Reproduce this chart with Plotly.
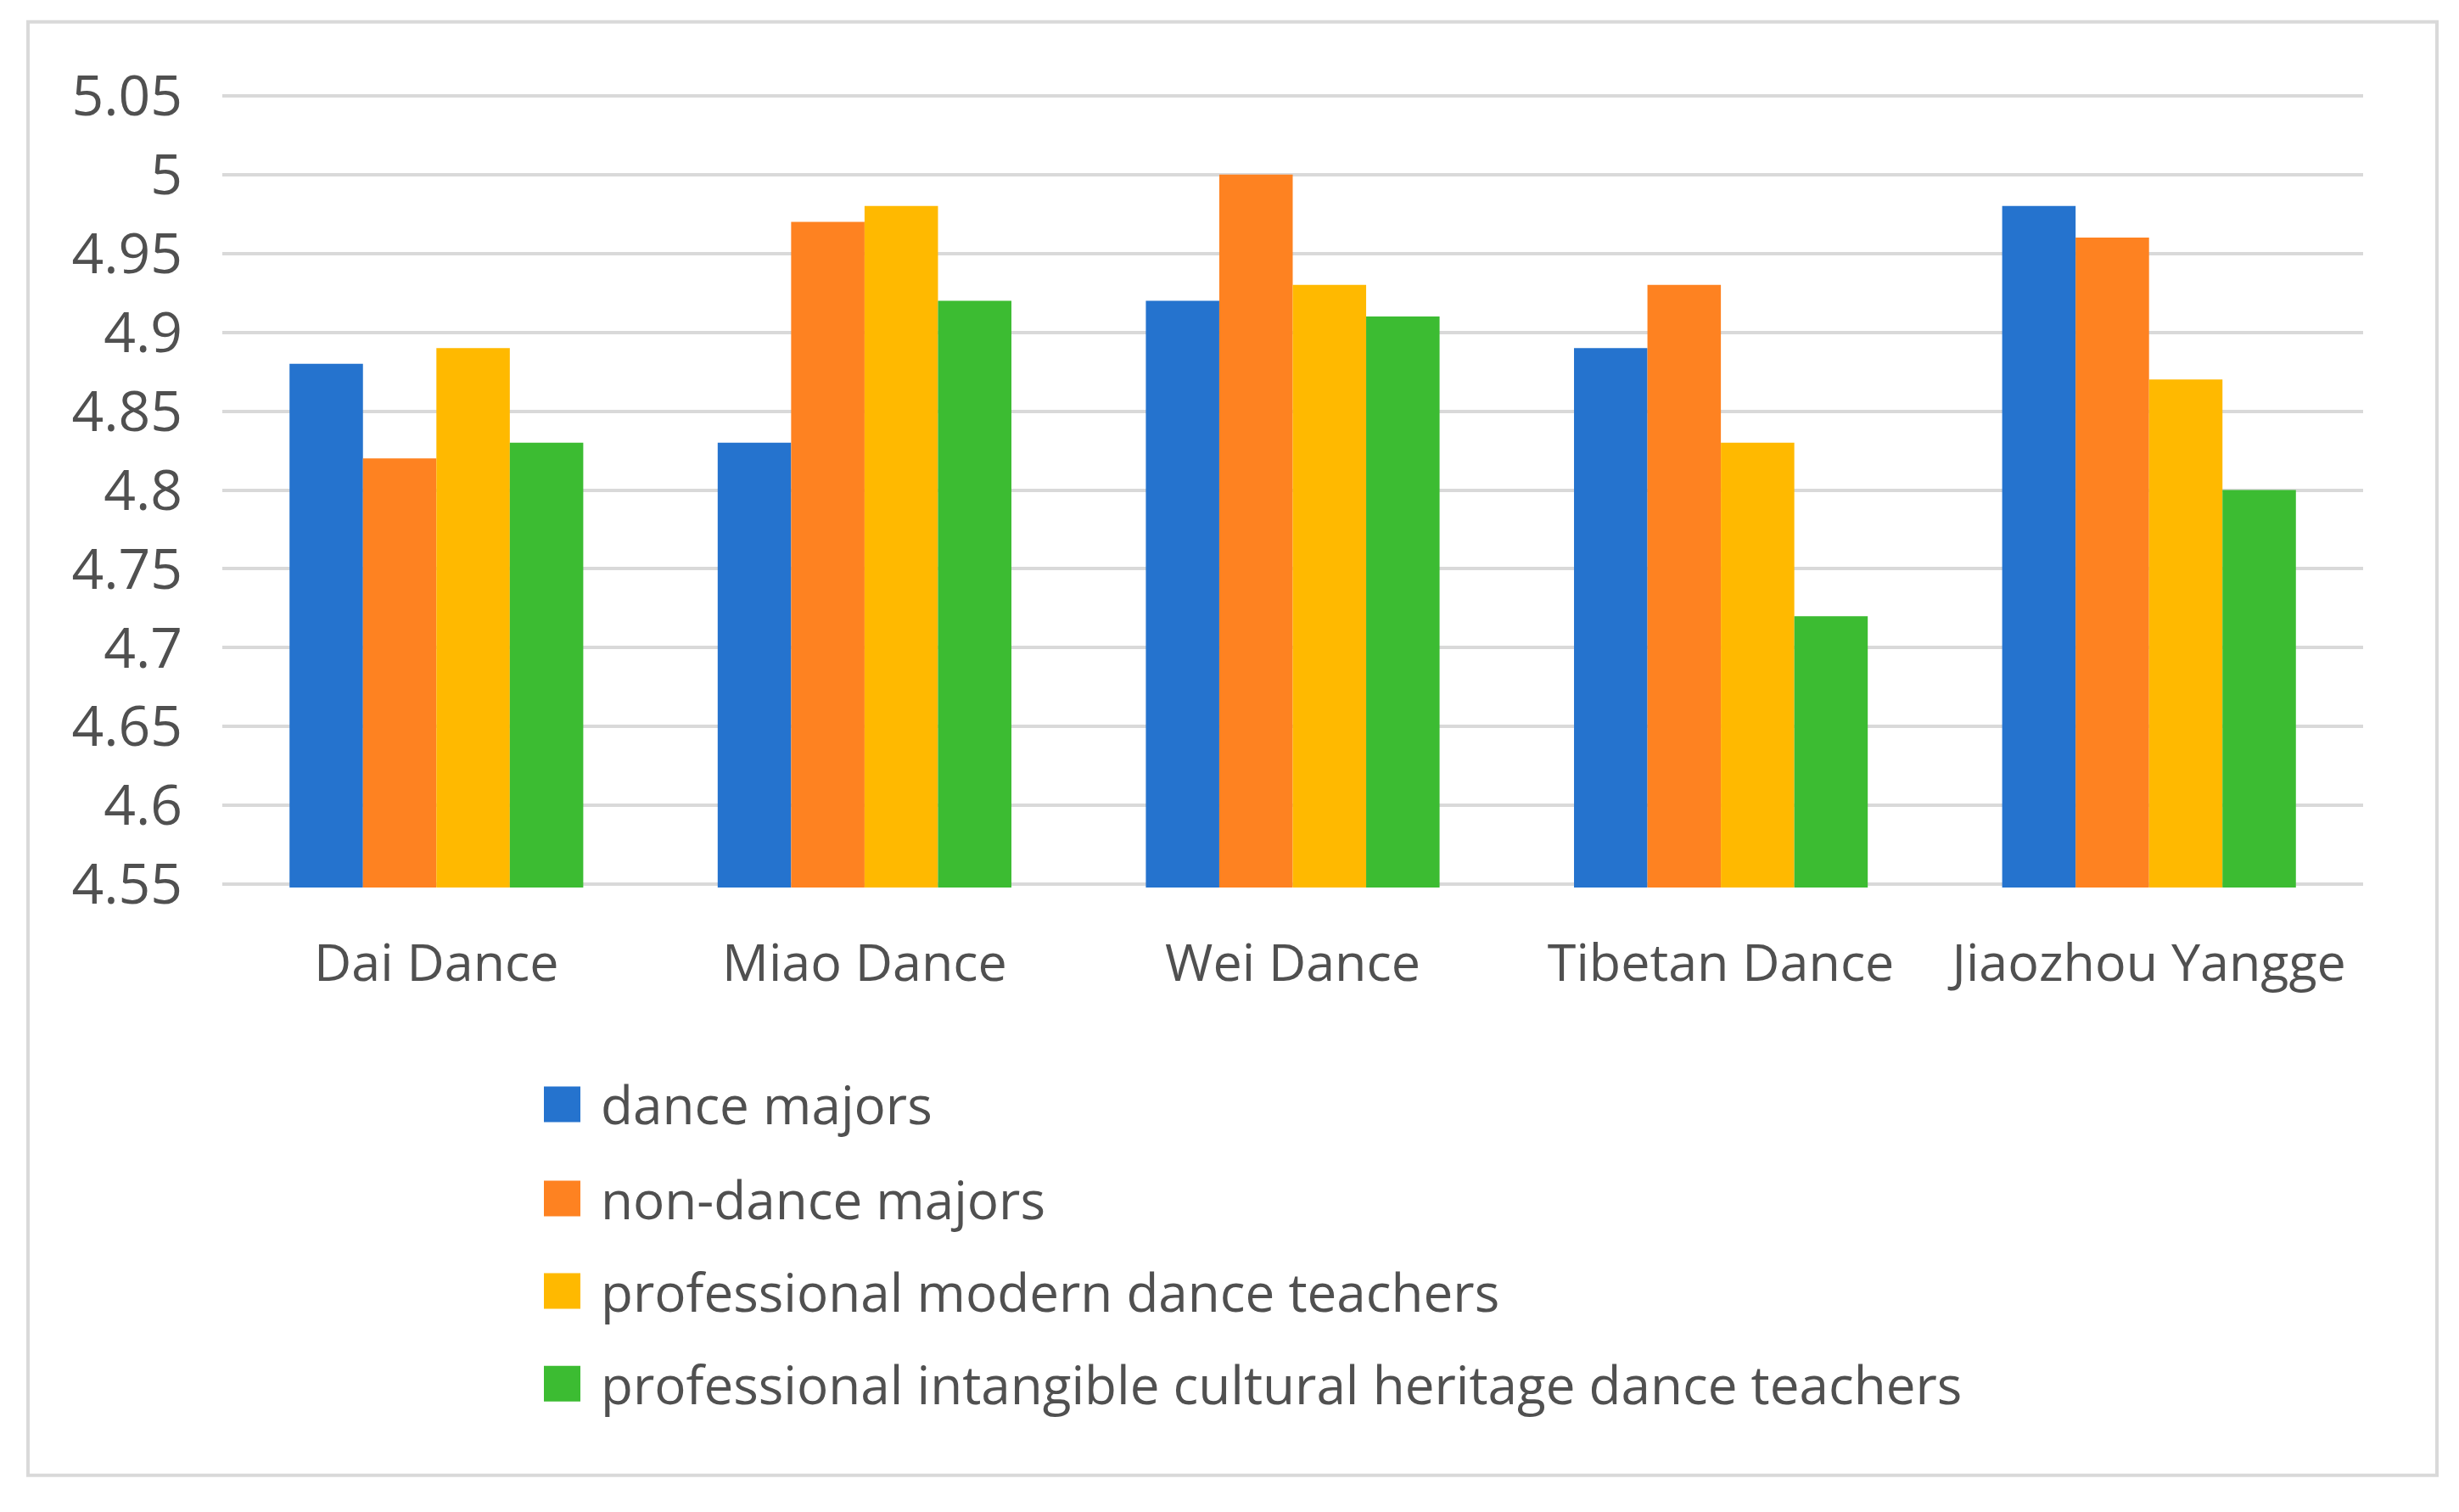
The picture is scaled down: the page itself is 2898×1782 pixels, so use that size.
import plotly.graph_objects as go

categories = ["Dai Dance", "Miao Dance", "Wei Dance", "Tibetan Dance", "Jiaozhou Yangge"]
series_names = [
    "dance majors",
    "non-dance majors",
    "professional modern dance teachers",
    "professional intangible cultural heritage dance teachers",
]
dance_majors = [4.88, 4.83, 4.92, 4.89, 4.98]
non_dance_majors = [4.82, 4.97, 5.00, 4.93, 4.96]
modern_teachers = [4.89, 4.98, 4.93, 4.83, 4.87]
heritage_teachers = [4.83, 4.92, 4.91, 4.72, 4.80]
tick_values = [4.55, 4.6, 4.65, 4.7, 4.75, 4.8, 4.85, 4.9, 4.95, 5.0, 5.05]
tick_labels = ["4.55", "4.6", "4.65", "4.7", "4.75", "4.8", "4.85", "4.9", "4.95", "5", "5.05"]

colors = ["#2573CE", "#FE8221", "#FFB900", "#3CBC32"]
series_values = [dance_majors, non_dance_majors, modern_teachers, heritage_teachers]

W, H = 2898, 1782
Y_MIN, Y_MAX = 4.55, 5.05
PAD = 0.002  # small range extension so the edge gridlines are drawn
# pixel geometry of the gridline span (4.55 .. 5.05)
GX_L, GX_R, GY_T, GY_B = 262, 2785, 113, 1042
PPU = (GY_B - GY_T) / (Y_MAX - Y_MIN)
PX_L, PX_R = GX_L, GX_R
PX_T = GY_T - PAD * PPU
PX_B = GY_B + PAD * PPU
FONT = "Open Sans"
TXT = "#505050"


def px_x(x):
    return (x - PX_L) / (PX_R - PX_L)


def px_y(y):
    return (PX_B - y) / (PX_B - PX_T)


fig = go.Figure()
for name, vals, col in zip(series_names, series_values, colors):
    fig.add_trace(go.Bar(x=categories, y=vals, name=name, marker=dict(color=col, line=dict(width=0))))

shapes = [
    dict(type="rect", xref="paper", yref="paper",
         x0=px_x(33), x1=px_x(2872), y0=px_y(1738), y1=px_y(26),
         line=dict(color="#d9d9d9", width=4), layer="below"),
]
annotations = []
legend_rows = [1301, 1412, 1521, 1630]
for name, col, yc in zip(series_names, colors, legend_rows):
    shapes.append(dict(type="rect", xref="paper", yref="paper",
                       x0=px_x(641), x1=px_x(684), y0=px_y(yc + 21), y1=px_y(yc - 21),
                       fillcolor=col, line=dict(width=0)))
    annotations.append(dict(xref="paper", yref="paper", x=px_x(706), y=px_y(yc),
                            xanchor="left", yanchor="middle", text=name, showarrow=False,
                            font=dict(family=FONT, size=62, color=TXT)))

fig.update_layout(
    width=W, height=H,
    margin=dict(l=PX_L, r=W - PX_R, t=PX_T, b=H - PX_B, pad=0),
    paper_bgcolor="white", plot_bgcolor="white",
    barmode="group", bargap=0.314, bargroupgap=0,
    showlegend=False,
    font=dict(family=FONT, color=TXT),
    shapes=shapes, annotations=annotations,
)
fig.update_yaxes(range=[Y_MIN - PAD, Y_MAX + PAD], tickvals=tick_values, ticktext=tick_labels,
                 showgrid=True, gridcolor="#d9d9d9", gridwidth=4, zeroline=False,
                 showline=False, ticks="", ticklabelstandoff=46,
                 tickfont=dict(family=FONT, size=66, color=TXT))
fig.update_xaxes(showgrid=False, showline=False, ticks="", ticklabelstandoff=48,
                 tickfont=dict(family=FONT, size=61, color=TXT))

fig.write_html("out.html", config={"displayModeBar": False},
               post_script="document.body.style.margin='0';")
